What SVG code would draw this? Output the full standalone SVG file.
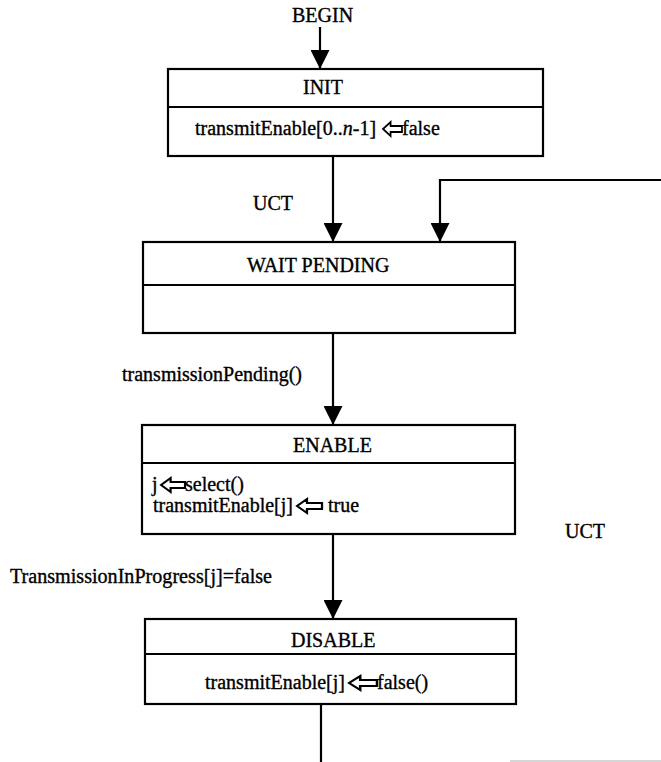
<svg xmlns="http://www.w3.org/2000/svg" width="661" height="762" viewBox="0 0 661 762">
  <style>
    .box { fill: #ffffff; stroke: #000000; stroke-width: 2.2; }
    .div { stroke: #000000; stroke-width: 2.2; }
    .lbl { font-family: "Liberation Serif", "Times New Roman", serif; font-size: 20px; fill: #000000; stroke: #000000; stroke-width: 0.35; }
    .wire { fill: none; stroke: #000000; stroke-width: 2.2; }
    .assign { fill: #ffffff; stroke: #000000; stroke-width: 1.8; stroke-linejoin: miter; }
  </style>
  <defs>
    <marker id="head" markerUnits="userSpaceOnUse" markerWidth="19" markerHeight="19" refX="19" refY="9.5" orient="auto">
      <path d="M0,0 L19,9.5 L0,19 z" fill="#000000"/>
    </marker>
    <!-- hollow left-pointing assignment arrow, 20 units long -->
    <path id="larrow" d="M0,0 L8,-7 L8,-3 L20,-3 L20,3 L8,3 L8,7 z"/>
  </defs>

  <rect width="661" height="762" fill="#ffffff"/>

  <!-- connectors -->
  <g id="connectors">
    <path class="wire" d="M320,27 V69" marker-end="url(#head)"/>
    <path class="wire" d="M333,156 V242" marker-end="url(#head)"/>
    <path class="wire" d="M661,180 H440 V242" marker-end="url(#head)"/>
    <path class="wire" d="M333,333 V425" marker-end="url(#head)"/>
    <path class="wire" d="M333,534 V619" marker-end="url(#head)"/>
    <path class="wire" d="M321,704 V762"/>
    <path d="M510,761 H661" stroke="#c8c8c8" stroke-width="1.5"/>
  </g>

  <!-- transition labels -->
  <g id="labels">
    <text class="lbl" x="292" y="22">BEGIN</text>
    <text class="lbl" x="253" y="210">UCT</text>
    <text class="lbl" x="122" y="381">transmissionPending()</text>
    <text class="lbl" x="565" y="538">UCT</text>
    <text class="lbl" x="10" y="583" textLength="262" lengthAdjust="spacingAndGlyphs">TransmissionInProgress[j]=false</text>
  </g>

  <g id="init">
    <rect class="box" x="168" y="69" width="375" height="87"/>
    <line class="div" x1="168" y1="107" x2="543" y2="107"/>
    <text class="lbl" x="303" y="94">INIT</text>
    <text class="lbl" x="195" y="135">transmitEnable[0..<tspan font-style="italic">n</tspan>-1]</text>
    <use href="#larrow" class="assign" transform="translate(383,129) scale(0.95,1)"/>
    <text class="lbl" x="402" y="135">false</text>
  </g>

  <g id="wait-pending">
    <rect class="box" x="143" y="242" width="372" height="91"/>
    <line class="div" x1="143" y1="285" x2="515" y2="285"/>
    <text class="lbl" x="247" y="272">WAIT PENDING</text>
  </g>

  <g id="enable">
    <rect class="box" x="142" y="425" width="373" height="109"/>
    <line class="div" x1="142" y1="463" x2="515" y2="463"/>
    <text class="lbl" x="152" y="491">j</text>
    <text class="lbl" x="293" y="452">ENABLE</text>
    <use href="#larrow" class="assign" transform="translate(161,485) scale(1.2,1)"/>
    <text class="lbl" x="185" y="491">select()</text>
    <text class="lbl" x="153" y="512">transmitEnable[j]</text>
    <use href="#larrow" class="assign" transform="translate(297,506) scale(1.25,1)"/>
    <text class="lbl" x="328" y="512">true</text>
  </g>

  <g id="disable">
    <rect class="box" x="145" y="619" width="371" height="85"/>
    <line class="div" x1="145" y1="654" x2="516" y2="654"/>
    <text class="lbl" x="291" y="647">DISABLE</text>
    <text class="lbl" x="205" y="689">transmitEnable[j]</text>
    <use href="#larrow" class="assign" transform="translate(349,683) scale(1.4,1)"/>
    <text class="lbl" x="377" y="689">false()</text>
  </g>
</svg>
